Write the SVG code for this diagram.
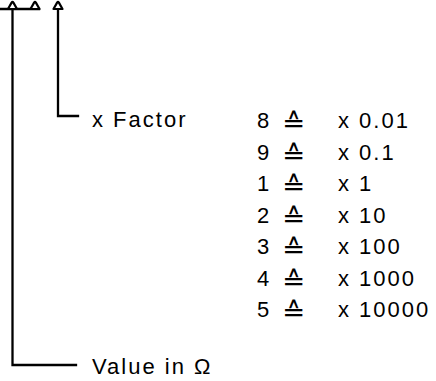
<svg xmlns="http://www.w3.org/2000/svg" width="436" height="381" viewBox="0 0 436 381">
<style>
.ln{fill:none;stroke:#000;stroke-width:2.3;stroke-linecap:square}
.tri{fill:#fff;stroke:#000;stroke-width:2.2;stroke-linejoin:round}
.t{font-family:"Liberation Sans",Arial,sans-serif;font-size:22px;fill:#000;letter-spacing:2px}
.s{font-family:"DejaVu Sans",sans-serif;font-size:24px;fill:#000}
</style>
<defs>
<path id="cap" class="tri" d="M-4.5,8 L-0.9,1.6 Q0,0.3 0.9,1.6 L4.5,8 Z"/>
</defs>
<g id="connectors">
<path class="ln" d="M1,9 H39"/>
<path class="ln" d="M12.5,9 V365 H76"/>
<path class="ln" d="M58,9 V116 H78"/>
<use href="#cap" x="12.5" y="1"/>
<use href="#cap" x="35" y="1"/>
<use href="#cap" x="58" y="1"/>
</g>
<g id="factor-label"><text class="t" x="92" y="127">x Factor</text></g>
<g id="value-label"><text class="t" x="92" y="374">Value in Ω</text></g>
<g id="table">
<text class="t" x="257" y="128">8</text><text class="s" transform="translate(282,132) scale(1.15,1.1)">≙</text><text class="t" x="338" y="128">x 0.01</text>
<text class="t" x="257" y="159.5">9</text><text class="s" transform="translate(282,163.5) scale(1.15,1.1)">≙</text><text class="t" x="338" y="159.5">x 0.1</text>
<text class="t" x="257" y="191">1</text><text class="s" transform="translate(282,195) scale(1.15,1.1)">≙</text><text class="t" x="338" y="191">x 1</text>
<text class="t" x="257" y="222.5">2</text><text class="s" transform="translate(282,226.5) scale(1.15,1.1)">≙</text><text class="t" x="338" y="222.5">x 10</text>
<text class="t" x="257" y="254">3</text><text class="s" transform="translate(282,258) scale(1.15,1.1)">≙</text><text class="t" x="338" y="254">x 100</text>
<text class="t" x="257" y="285.5">4</text><text class="s" transform="translate(282,289.5) scale(1.15,1.1)">≙</text><text class="t" x="338" y="285.5">x 1000</text>
<text class="t" x="257" y="317">5</text><text class="s" transform="translate(282,321) scale(1.15,1.1)">≙</text><text class="t" x="338" y="317">x 10000</text>
</g>
</svg>
